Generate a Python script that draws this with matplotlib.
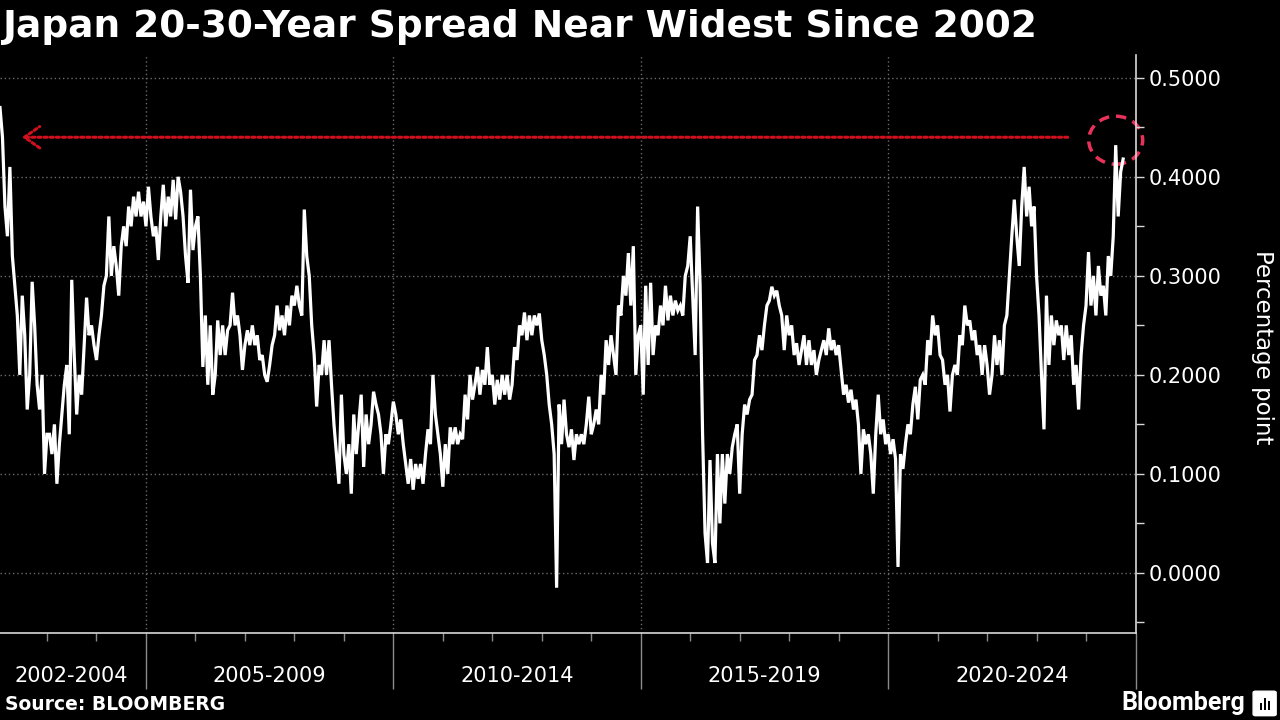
import matplotlib.pyplot as plt
import numpy as np
from matplotlib.patches import Ellipse, FancyBboxPatch, Rectangle

# Japan 20-30 year yield spread, percentage point
# one value every 0.05 year, first point at 2002.05
start_year = 2002.05
step = 0.05
spread = [
    # 2002
    0.47, 0.44, 0.37, 0.34, 0.41, 0.32, 0.29, 0.26, 0.20, 0.28,
    0.24, 0.165, 0.20, 0.294, 0.25, 0.19, 0.165, 0.20, 0.10, 0.14,
    # 2003
    0.14, 0.12, 0.15, 0.09, 0.13, 0.16, 0.19, 0.21, 0.14, 0.296,
    0.22, 0.16, 0.20, 0.18, 0.23, 0.278, 0.24, 0.25, 0.23, 0.215,
    # 2004
    0.24, 0.26, 0.29, 0.30, 0.36, 0.30, 0.33, 0.31, 0.28, 0.33,
    0.35, 0.33, 0.37, 0.35, 0.38, 0.36, 0.385, 0.36, 0.375, 0.35,
    # 2005
    0.39, 0.36, 0.34, 0.35, 0.316, 0.36, 0.392, 0.35, 0.38, 0.36,
    0.397, 0.357, 0.40, 0.385, 0.36, 0.32, 0.293, 0.387, 0.326, 0.35,
    # 2006
    0.36, 0.30, 0.208, 0.26, 0.19, 0.25, 0.18, 0.20, 0.255, 0.22,
    0.25, 0.22, 0.245, 0.25, 0.283, 0.25, 0.26, 0.24, 0.205, 0.23,
    # 2007
    0.245, 0.23, 0.25, 0.23, 0.24, 0.215, 0.22, 0.20, 0.193, 0.21,
    0.23, 0.24, 0.27, 0.245, 0.26, 0.24, 0.27, 0.25, 0.28, 0.27,
    # 2008
    0.29, 0.27, 0.26, 0.367, 0.32, 0.30, 0.25, 0.22, 0.168, 0.21,
    0.20, 0.235, 0.20, 0.235, 0.19, 0.15, 0.12, 0.09, 0.18, 0.12,
    # 2009
    0.10, 0.13, 0.08, 0.16, 0.12, 0.15, 0.18, 0.107, 0.16, 0.13,
    0.15, 0.183, 0.17, 0.16, 0.14, 0.10, 0.14, 0.13, 0.15, 0.173,
    # 2010
    0.16, 0.14, 0.155, 0.13, 0.11, 0.09, 0.115, 0.084, 0.11, 0.095,
    0.11, 0.09, 0.12, 0.145, 0.13, 0.20, 0.16, 0.14, 0.12, 0.087,
    # 2011
    0.13, 0.10, 0.147, 0.13, 0.147, 0.13, 0.14, 0.135, 0.18, 0.155,
    0.20, 0.175, 0.19, 0.208, 0.18, 0.205, 0.19, 0.228, 0.19, 0.20,
    # 2012
    0.17, 0.195, 0.175, 0.20, 0.18, 0.20, 0.175, 0.19, 0.228, 0.215,
    0.25, 0.24, 0.263, 0.235, 0.26, 0.24, 0.26, 0.25, 0.262, 0.235,
    # 2013
    0.22, 0.20, 0.17, 0.15, 0.12, -0.015, 0.17, 0.13, 0.175, 0.14,
    0.127, 0.145, 0.114, 0.14, 0.13, 0.14, 0.13, 0.15, 0.178, 0.14,
    # 2014
    0.15, 0.165, 0.15, 0.20, 0.18, 0.235, 0.21, 0.24, 0.22, 0.20,
    0.27, 0.26, 0.30, 0.28, 0.323, 0.27, 0.33, 0.20, 0.24, 0.25,
    # 2015
    0.18, 0.29, 0.21, 0.293, 0.22, 0.25, 0.24, 0.27, 0.25, 0.29,
    0.255, 0.28, 0.26, 0.275, 0.265, 0.27, 0.26, 0.30, 0.31, 0.34,
    # 2016
    0.28, 0.22, 0.37, 0.29, 0.14, 0.04, 0.01, 0.114, 0.03, 0.01,
    0.12, 0.05, 0.12, 0.07, 0.12, 0.10, 0.127, 0.14, 0.15, 0.08,
    # 2017
    0.14, 0.17, 0.16, 0.175, 0.18, 0.215, 0.22, 0.24, 0.225, 0.25,
    0.27, 0.275, 0.289, 0.28, 0.285, 0.27, 0.26, 0.225, 0.26, 0.24,
    # 2018
    0.25, 0.22, 0.232, 0.21, 0.225, 0.24, 0.21, 0.235, 0.21, 0.225,
    0.20, 0.215, 0.225, 0.235, 0.22, 0.247, 0.225, 0.235, 0.22, 0.23,
    # 2019
    0.205, 0.18, 0.19, 0.172, 0.185, 0.165, 0.175, 0.15, 0.10, 0.145,
    0.13, 0.14, 0.12, 0.08, 0.14, 0.18, 0.14, 0.155, 0.13, 0.14,
    # 2020
    0.12, 0.135, 0.115, 0.006, 0.12, 0.105, 0.13, 0.15, 0.14, 0.17,
    0.188, 0.155, 0.195, 0.20, 0.19, 0.235, 0.22, 0.26, 0.24, 0.25,
    # 2021
    0.22, 0.215, 0.19, 0.20, 0.163, 0.20, 0.21, 0.20, 0.24, 0.23,
    0.27, 0.25, 0.255, 0.235, 0.245, 0.22, 0.23, 0.20, 0.23, 0.21,
    # 2022
    0.18, 0.20, 0.24, 0.21, 0.235, 0.20, 0.25, 0.26, 0.30, 0.34,
    0.377, 0.34, 0.31, 0.37, 0.41, 0.36, 0.39, 0.35, 0.37, 0.30,
    # 2023
    0.26, 0.20, 0.145, 0.28, 0.21, 0.26, 0.23, 0.255, 0.24, 0.25,
    0.215, 0.25, 0.22, 0.24, 0.19, 0.21, 0.165, 0.22, 0.25, 0.27,
    # 2024
    0.324, 0.27, 0.30, 0.26, 0.31, 0.28, 0.29, 0.26, 0.32, 0.30,
    0.34, 0.432, 0.36, 0.405, 0.418,
]

periods = ['2002-2004', '2005-2009', '2010-2014', '2015-2019', '2020-2024']
period_edges = [2002, 2005, 2010, 2015, 2020, 2025]
yticks = [0.0, 0.1, 0.2, 0.3, 0.4, 0.5]

widest_level = 0.44      # red arrow level
arrow_from = 2023.63
arrow_to = 2002.49
peak_year = 2024.60
peak_level = 0.437

years = start_year + step * np.arange(len(spread))

fig = plt.figure(figsize=(12.8, 7.2), dpi=100, facecolor='black')
ax = fig.add_axes([0.0, 0.121, 0.8875, 0.8028])
ax.set_facecolor('black')

ax.plot(years, spread, color='white', lw=2.3, solid_joinstyle='miter')

ax.set_xlim(2002.05, 2025.01)
ax.set_ylim(-0.0606, 0.5232)

# grid
for y in yticks:
    ax.axhline(y, color='#6b6b6b', lw=1, ls=(0, (1, 2)), zorder=0)
for x in period_edges[1:]:
    ax.axvline(x, color='#6b6b6b', lw=1, ls=(0, (1, 2)), zorder=0)

# spines
for s in ['left', 'top']:
    ax.spines[s].set_visible(False)
ax.spines['bottom'].set_color('#d8d8d8')
ax.spines['right'].set_color('#d8d8d8')
ax.spines['bottom'].set_linewidth(1.2)
ax.spines['right'].set_linewidth(1.2)

# y axis on the right
ax.yaxis.tick_right()
ax.set_yticks(yticks)
ax.set_yticklabels(['%.4f' % v for v in yticks])
ax.set_yticks(np.arange(-0.05, 0.52, 0.05), minor=True)
ax.tick_params(axis='y', which='both', colors='#d8d8d8', labelcolor='white',
               labelsize=15, length=6, width=1, pad=3)
fig.text(0.986, 0.518, 'Percentage point', rotation=270, color='white',
         fontsize=16.5, ha='center', va='center')

# x axis: period boundaries as long ticks, years as short ticks
ax.set_xticks(period_edges[1:])
ax.set_xticklabels([])
ax.set_xticks([y for y in range(2003, 2025) if y not in period_edges], minor=True)
ax.tick_params(axis='x', which='major', color='#8a8a8a', length=40, width=1)
ax.tick_params(axis='x', which='minor', color='#8a8a8a', length=6, width=1)
for i, lab in enumerate(periods):
    mid = (period_edges[i] + period_edges[i + 1]) / 2
    ax.text(mid, -0.074, lab, transform=ax.get_xaxis_transform(), color='white',
            fontsize=15, ha='center', va='center')

# red dotted arrow and dashed circle
ax.annotate('', xy=(arrow_to, widest_level), xytext=(arrow_from, widest_level),
            arrowprops=dict(arrowstyle='->,head_length=0.5,head_width=0.35',
                            color='#d0101e', lw=2.2,
                            linestyle=(0, (1, 1)), mutation_scale=22,
                            shrinkA=0, shrinkB=0))
ax.add_patch(Ellipse((peak_year, peak_level), 1.09, 0.0485, fill=False,
                     edgecolor='#e8325a', lw=2.5, ls=(0, (3, 2)), clip_on=False))

# texts
fig.text(0.002, 0.962, 'Japan 20-30-Year Spread Near Widest Since 2002',
         color='white', fontsize=27, fontweight='bold', family='DejaVu Sans',
         ha='left', va='center')
fig.text(0.004, 0.021, 'Source: BLOOMBERG', color='white', fontsize=13.5,
         fontweight='bold', family='DejaVu Sans', ha='left', va='center')
fig.text(0.973, 0.024, 'Bloomberg', color='white', fontsize=18,
         fontweight='bold', family='Roboto', ha='right', va='center')

# small logo box
fig.patches.append(FancyBboxPatch((0.981, 0.008), 0.014, 0.03,
                                  boxstyle='round,pad=0.002', transform=fig.transFigure,
                                  facecolor='white', edgecolor='white'))
for bx, bh in [(0.9845, 0.010), (0.9875, 0.016), (0.9905, 0.012)]:
    fig.patches.append(Rectangle((bx, 0.014), 0.0018, bh, transform=fig.transFigure,
                                 facecolor='black', edgecolor='none'))

fig.savefig('out.png', dpi=100, facecolor='black')
